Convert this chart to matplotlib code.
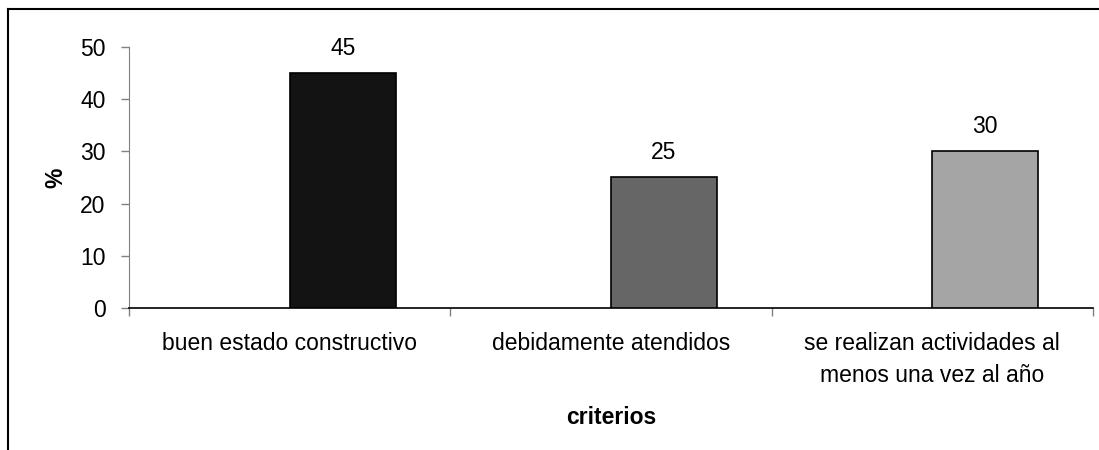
import numpy as np
import matplotlib.pyplot as plt
from matplotlib.lines import Line2D

plt.rcParams['font.family'] = ['Liberation Sans', 'DejaVu Sans']

criterios = ['buen estado constructivo', 'debidamente atendidos',
             'se realizan actividades al\nmenos una vez al año']
valores = [45, 25, 30]
colores = ['#131313', '#666666', '#a5a5a5']

fs = 16.5

fig = plt.figure(figsize=(10.99, 4.5), dpi=100)
ax = fig.add_axes([0.1174, 0.3156, 0.8771, 0.58])

x = np.arange(len(valores))
bars = ax.bar(x, valores, width=0.33, align='edge', color=colores,
              edgecolor='black', linewidth=1.2, zorder=3)
for b, v in zip(bars, valores):
    ax.text(b.get_x() + b.get_width() / 2, v + 2.6, str(v),
            ha='center', va='bottom', fontsize=fs)

ax.set_xlim(-0.5, 2.5)
ax.set_ylim(0, 50)
ax.set_yticks([0, 10, 20, 30, 40, 50])
ax.set_xticks(x)
ax.set_xticklabels(criterios, fontsize=fs, linespacing=1.5)
ax.set_xticks([-0.5, 0.5, 1.5, 2.5], minor=True)
ax.tick_params(axis='x', which='major', length=0, pad=17)
ax.tick_params(axis='x', which='minor', length=6, color='#808080', width=1)
ax.tick_params(axis='y', length=6, color='#808080', width=1, labelsize=fs, pad=11)

for s in ['top', 'right']:
    ax.spines[s].set_visible(False)
ax.spines['left'].set_color('#808080')
ax.spines['bottom'].set_color('black')
ax.spines['bottom'].set_linewidth(1.2)

ax.set_ylabel('%', fontsize=fs, fontweight='bold', labelpad=9)
ax.set_xlabel('criterios', fontsize=fs, fontweight='bold', labelpad=14)

# marco exterior del grafico
fig.add_artist(Line2D([8 / 1099, 1.0], [1 - 9 / 450, 1 - 9 / 450], color='black', lw=1.5))
fig.add_artist(Line2D([8 / 1099, 8 / 1099], [0, 1 - 9 / 450], color='black', lw=1.5))

fig.savefig('out.png', dpi=100)
